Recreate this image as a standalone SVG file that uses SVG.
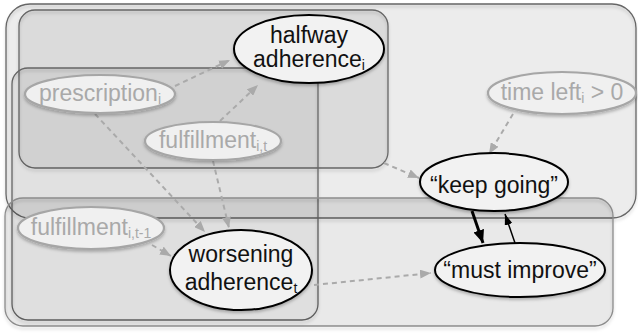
<svg xmlns="http://www.w3.org/2000/svg" width="638" height="333" viewBox="0 0 638 333">
<style>
.edge{fill:none;stroke:#666;stroke-width:1.3;filter:url(#shb)}
.edgel{fill:none;stroke:#8c8c8c;stroke-width:1.3;filter:url(#shb)}
.gn{fill:#f0f0f0;stroke:#a6a6a6;stroke-width:2.2;filter:url(#sh)}
.bn{fill:#f2f2f2;stroke:#000;stroke-width:2;filter:url(#sh)}
.gt{font-family:"Liberation Sans",Arial,sans-serif;font-size:23px;fill:#a9a9a9;text-anchor:middle}
.bt{font-family:"Liberation Sans",Arial,sans-serif;font-size:23px;fill:#111;text-anchor:middle}
.sub{font-size:14px}
.da{fill:none;stroke:#aaa;stroke-width:2;stroke-dasharray:5,4;marker-end:url(#ga)}
</style>
<defs>
<filter id="sh" x="-10%" y="-10%" width="120%" height="130%">
<feDropShadow dx="0" dy="2" stdDeviation="1.5" flood-color="#000" flood-opacity="0.25"/>
</filter>
<filter id="shb" x="-5%" y="-5%" width="110%" height="115%">
<feDropShadow dx="0" dy="2.5" stdDeviation="1.5" flood-color="#000" flood-opacity="0.18"/>
</filter>
<marker id="ga" markerUnits="userSpaceOnUse" markerWidth="11" markerHeight="9" refX="11" refY="4.5" orient="auto">
<path d="M0,0 L11,4.5 L0,9 z" fill="#aaa"/>
</marker>
<marker id="ka" markerUnits="userSpaceOnUse" markerWidth="13" markerHeight="11" refX="13" refY="5.5" orient="auto">
<path d="M0,0 L13,5.5 L0,11 z" fill="#000"/>
</marker>
<marker id="kb" markerUnits="userSpaceOnUse" markerWidth="11" markerHeight="8" refX="11" refY="4" orient="auto">
<path d="M0,0 L11,4 L0,8 z" fill="#000"/>
</marker>
</defs>
<rect width="638" height="333" fill="#fff"/>
<g id="plates">
<g id="plate-top">
<rect x="6" y="4" width="630" height="214" rx="24" fill="#000" fill-opacity="0.075"/>
<rect class="edge" x="6" y="4" width="630" height="214" rx="24"/>
</g>
<g id="plate-halfway">
<rect x="19" y="10" width="369" height="158" rx="16" fill="#000" fill-opacity="0.07"/>
<rect class="edge" x="19" y="10" width="369" height="158" rx="16"/>
</g>
<g id="plate-vertical">
<rect x="12" y="68" width="306" height="252" rx="16" fill="#000" fill-opacity="0.045"/>
<rect class="edge" x="12" y="68" width="306" height="252" rx="16"/>
</g>
<g id="plate-bottom">
<rect x="5" y="198" width="608" height="128" rx="18" fill="#000" fill-opacity="0.085"/>
<rect class="edgel" x="5" y="198" width="608" height="128" rx="18"/>
</g>
</g>
<g id="connectors">
<line class="da" x1="175" y1="86" x2="230" y2="60"/>
<line class="da" x1="220" y1="121" x2="258" y2="85"/>
<line class="da" x1="95" y1="114" x2="205" y2="232"/>
<line class="da" x1="213" y1="161" x2="229" y2="228"/>
<line class="da" x1="152" y1="245" x2="171" y2="256"/>
<line class="da" x1="384" y1="163" x2="419" y2="178"/>
<line class="da" x1="513" y1="114" x2="489" y2="154"/>
<line class="da" x1="314" y1="285" x2="431" y2="273"/>
<line x1="472" y1="211" x2="483" y2="243" stroke="#000" stroke-width="3" marker-end="url(#ka)"/>
<line x1="515" y1="243" x2="505" y2="214" stroke="#000" stroke-width="1.5" marker-end="url(#kb)"/>
</g>
<g id="node-halfway">
<ellipse class="bn" cx="309" cy="49" rx="75" ry="34"/>
<text class="bt" x="309" y="43">halfway</text>
<text class="bt" x="309" y="67">adherence<tspan class="sub" dy="3">i</tspan></text>
</g>
<g id="node-prescription">
<ellipse class="gn" cx="100" cy="94" rx="75" ry="19"/>
<text class="gt" x="100" y="101">prescription<tspan class="sub" dy="3">i</tspan></text>
</g>
<g id="node-fulfillment-it">
<ellipse class="gn" cx="213" cy="141" rx="68" ry="19"/>
<text class="gt" x="213" y="148">fulfillment<tspan class="sub" dy="3">i,t</tspan></text>
</g>
<g id="node-timeleft">
<ellipse class="gn" cx="562" cy="93" rx="74" ry="21"/>
<text class="gt" x="562" y="100">time left<tspan class="sub" dy="3">i</tspan><tspan dy="-3"> &gt; 0</tspan></text>
</g>
<g id="node-keepgoing">
<ellipse class="bn" cx="494" cy="182" rx="74" ry="29"/>
<text class="bt" x="494" y="193">“keep going”</text>
</g>
<g id="node-fulfillment-it1">
<ellipse class="gn" cx="91" cy="228" rx="73" ry="21"/>
<text class="gt" x="91" y="235">fulfillment<tspan class="sub" dy="3">i,t-1</tspan></text>
</g>
<g id="node-worsening">
<ellipse class="bn" cx="241" cy="270" rx="71" ry="40"/>
<text class="bt" x="241" y="262">worsening</text>
<text class="bt" x="241" y="290">adherence<tspan class="sub" dy="3">t</tspan></text>
</g>
<g id="node-mustimprove">
<ellipse class="bn" cx="520" cy="270" rx="85" ry="27"/>
<text class="bt" x="520" y="278">“must improve”</text>
</g>
</svg>
